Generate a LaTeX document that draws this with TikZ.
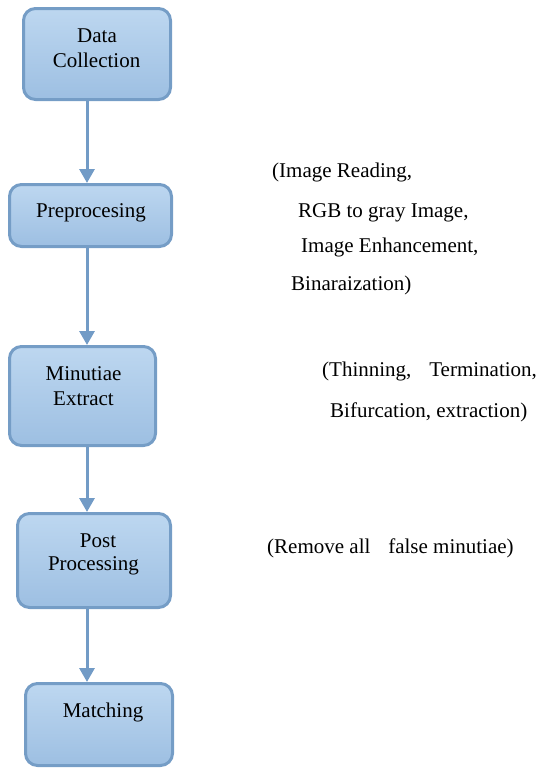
\documentclass[tikz,border=0pt]{standalone}
\usepackage{fontspec}
\setmainfont{Liberation Serif}
\usetikzlibrary{arrows.meta}
\definecolor{boxtop}{RGB}{189,215,240}
\definecolor{boxbot}{RGB}{157,191,226}
\definecolor{boxline}{RGB}{117,157,198}
\definecolor{flowline}{RGB}{114,155,198}
\begin{document}
\begin{tikzpicture}[x=1pt,y=-1pt,
  stage/.style={draw=boxline, line width=3pt, rounded corners=12pt,
    top color=boxtop, bottom color=boxbot, inner sep=0pt},
  txt/.style={font=\fontsize{21}{25}\selectfont, inner sep=0pt, anchor=base},
  note/.style={font=\fontsize{21}{25}\selectfont, inner sep=0pt, anchor=base west},
  flow/.style={draw=flowline, line width=3pt,
    -{Triangle[length=14pt,width=15pt]}}]
  \useasboundingbox (0,0) rectangle (543,769);

  % process stages
  \node[stage, minimum width=147pt, minimum height=91pt] (b1) at (97,54) {};
  \node[stage, minimum width=162pt, minimum height=62pt] (b2) at (90.5,215.5) {};
  \node[stage, minimum width=146pt, minimum height=99pt] (b3) at (82.5,396) {};
  \node[stage, minimum width=153pt, minimum height=94pt] (b4) at (94,560.5) {};
  \node[stage, minimum width=147pt, minimum height=82pt] (b5) at (99,724.5) {};

  % stage captions
  \node[txt] (t1a) at (97,42) {Data};
  \node[txt] (t1b) at (96.5,67) {Collection};
  \node[txt] (t2) at (91,217) {Preprocesing};
  \node[txt] (t3a) at (83.5,380) {Minutiae};
  \node[txt] (t3b) at (83.5,405) {Extract};
  \node[txt] (t4a) at (98,547) {Post};
  \node[txt] (t4b) at (93.5,570) {Processing};
  \node[txt] (t5) at (103,717) {Matching};

  % flow between stages
  \coordinate (ax) at (87,0);
  \draw[flow] (b1.south -| ax) -- (b2.north -| ax);
  \draw[flow] (b2.south -| ax) -- (b3.north -| ax);
  \draw[flow] (b3.south -| ax) -- (b4.north -| ax);
  \draw[flow] (b4.south -| ax) -- (b5.north -| ax);

  % side notes
  \node[note] (n1) at (272,177) {(Image Reading,};
  \node[note] (n2) at (298,217) {RGB to gray Image,};
  \node[note] (n3) at (301,252) {Image Enhancement,};
  \node[note] (n4) at (291,290) {Binaraization)};
  \node[note] (n5) at (322,376) {(Thinning,\hspace{0.6em} Termination,};
  \node[note] (n6) at (330,417) {Bifurcation, extraction)};
  \node[note] (n7) at (267,553) {(Remove all\hspace{0.6em} false minutiae)};
\end{tikzpicture}
\end{document}
